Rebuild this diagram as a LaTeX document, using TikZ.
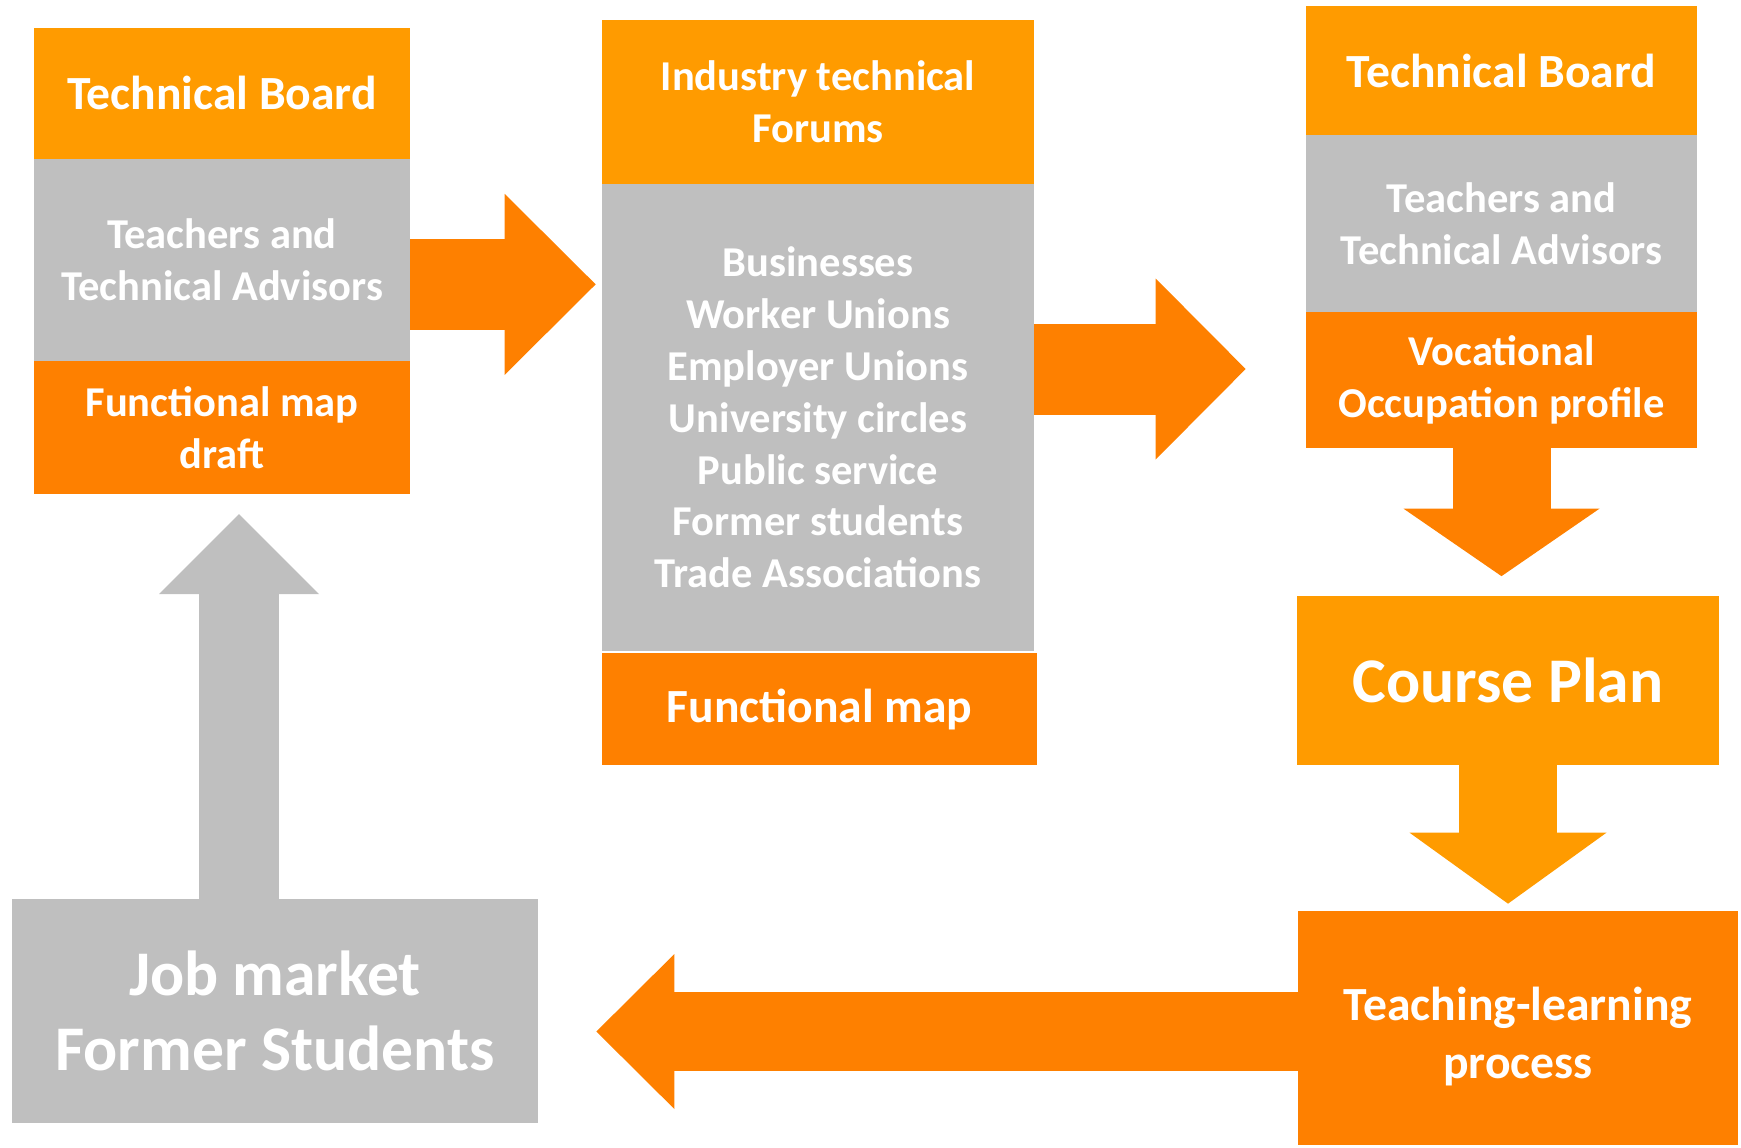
\documentclass[tikz,border=0pt]{standalone}
\usepackage{fontspec}
\setmainfont{Carlito}
\usetikzlibrary{arrows.meta}

\definecolor{lightorange}{RGB}{255,155,0}
\definecolor{darkorange}{RGB}{254,128,0}
\definecolor{boxgrey}{RGB}{191,191,191}

\tikzset{
    box/.style={inner sep=0pt, align=center, text=white, font=\bfseries},
    txtsmall/.style={font=\bfseries\fontsize{24.2}{29.5}\selectfont},
    txtmid/.style={font=\bfseries\fontsize{27.1}{33}\selectfont},
    txtbig/.style={font=\bfseries\fontsize{36.2}{42.3}\selectfont},
    % shaft width, head width, head length
    fatarrow/.style n args={3}{line width=#1,
        -{Triangle[width=#2, length=#3, line width=0pt]}}
}

\begin{document}
\begin{tikzpicture}

\useasboundingbox (0,0) rectangle (34.82,-22.94);

% left column
\node (boardleft) [box, txtmid,
    fill=lightorange,
    minimum width=7.52cm,
    minimum height=2.614cm,
    xshift=4.44cm,
    yshift=-1.867cm
] {Technical Board};

\node (teachleft) [box, txtsmall,
    fill=boxgrey,
    minimum width=7.52cm,
    minimum height=4.046cm,
    xshift=4.44cm,
    yshift=-5.197cm
] {Teachers and\\Technical Advisors};

\node (draftleft) [box, txtsmall,
    fill=darkorange,
    minimum width=7.52cm,
    minimum height=2.654cm,
    xshift=4.44cm,
    yshift=-8.547cm
] {Functional map\\draft};

% middle column
\node (forums) [box, txtsmall,
    fill=lightorange,
    minimum width=8.64cm,
    minimum height=3.28cm,
    xshift=16.36cm,
    yshift=-2.04cm
] {Industry technical\\Forums};

\node (members) [box, txtsmall,
    fill=boxgrey,
    minimum width=8.64cm,
    minimum height=9.34cm,
    xshift=16.36cm,
    yshift=-8.35cm
] {Businesses\\Worker Unions\\Employer Unions\\University circles\\Public service\\Former students\\Trade Associations};

\node (funcmap) [box, txtmid,
    fill=darkorange,
    minimum width=8.7cm,
    minimum height=2.24cm,
    xshift=16.39cm,
    yshift=-14.18cm
] {Functional map};

% right column
\node (boardright) [box, txtmid,
    fill=lightorange,
    minimum width=7.82cm,
    minimum height=2.58cm,
    xshift=30.03cm,
    yshift=-1.41cm
] {Technical Board};

\node (teachright) [box, txtsmall,
    fill=boxgrey,
    minimum width=7.82cm,
    minimum height=3.54cm,
    xshift=30.03cm,
    yshift=-4.47cm
] {Teachers and\\Technical Advisors};

\node (profile) [box, txtsmall,
    fill=darkorange,
    minimum width=7.82cm,
    minimum height=2.72cm,
    xshift=30.03cm,
    yshift=-7.6cm
] {Vocational\\Occupation profile};

\node (courseplan) [box, txtbig,
    fill=lightorange,
    minimum width=8.44cm,
    minimum height=3.38cm,
    xshift=30.16cm,
    yshift=-13.61cm
] {Course Plan};

% text sits a little below the middle here
\node (teaching) [box, txtmid,
    fill=darkorange,
    minimum width=8.8cm,
    minimum height=4.68cm,
    xshift=30.36cm,
    yshift=-20.56cm
] {\raisebox{-0.2cm}[\height][\depth]{\begin{tabular}{@{}c@{}}Teaching-learning\\process\end{tabular}}};

\node (jobmarket) [box, txtbig,
    fill=boxgrey,
    minimum width=10.52cm,
    minimum height=4.48cm,
    xshift=5.5cm,
    yshift=-20.22cm
] {Job market\\Former Students};

% block arrows
\coordinate (outleft) at ([yshift=-0.49cm]teachleft.east);
\coordinate (outmid) at ([yshift=0.97cm]members.east);
\coordinate (outteach) at ([yshift=-0.07cm]teaching.west);
\coordinate (outjob) at ([xshift=-0.72cm]jobmarket.north);

\draw [darkorange, fatarrow={1.82cm}{3.62cm}{1.82cm}, shorten >=0.12cm]
    (outleft) -- (outleft -| members.west);
\draw [darkorange, fatarrow={1.82cm}{3.62cm}{1.8cm}, shorten >=1.2cm]
    (outmid) -- (outmid -| profile.west);
\draw [darkorange, fatarrow={1.96cm}{3.92cm}{1.35cm}, shorten >=0.39cm]
    (profile.south) -- (profile.south |- courseplan.north);
\draw [lightorange, fatarrow={1.96cm}{3.94cm}{1.42cm}, shorten >=0.14cm]
    (courseplan.south) -- (courseplan.south |- teaching.north);
\draw [darkorange, fatarrow={1.58cm}{3.1cm}{1.56cm}, shorten >=1.16cm]
    (outteach) -- (outteach -| jobmarket.east);
\draw [boxgrey, fatarrow={1.6cm}{3.2cm}{1.6cm}, shorten >=0.4cm]
    (outjob) -- (outjob |- draftleft.south);

\end{tikzpicture}
\end{document}
